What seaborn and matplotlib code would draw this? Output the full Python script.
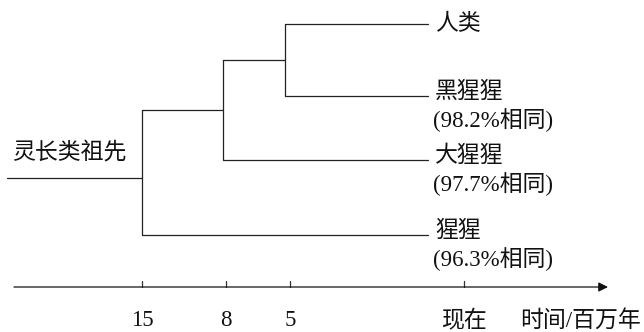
import numpy as np
import matplotlib
matplotlib.use('Agg')
import matplotlib.pyplot as plt
import seaborn as sns
import pandas as pd

sns.set_theme(style='white')
plt.rcParams['font.family'] = ['Liberation Serif', 'Noto Sans CJK SC']

# data
taxa = ['人类', '黑猩猩', '大猩猩', '猩猩']
similarity = ['', '98.2%相同', '97.7%相同', '96.3%相同']
root_label = '灵长类祖先'
split_labels = ['15', '8', '5', '现在']
axis_title = '时间/百万年'

# layout (pixel space)
tip_y = [24, 96, 160, 235]
node_x = [142, 223, 285]       # 15, 8, 5 million years ago
tip_x = 428
tick_x = [142, 226, 290, 464]
root_start = 7
axis_y = 287

# build elbow segments of the tree
mid_5 = (tip_y[0] + tip_y[1]) / 2
mid_8 = (mid_5 + tip_y[2]) / 2
mid_15 = (mid_8 + tip_y[3]) / 2

segs = [
    [(root_start, mid_15 + 5), (node_x[0], mid_15 + 5)],
    [(node_x[0], mid_8), (node_x[0], tip_y[3]), (tip_x, tip_y[3])],
    [(node_x[0], mid_8), (node_x[1], mid_8)],
    [(node_x[1], mid_5), (node_x[1], tip_y[2]), (tip_x, tip_y[2])],
    [(node_x[1], mid_5), (node_x[2], mid_5)],
    [(node_x[2], tip_y[0]), (node_x[2], tip_y[1]), (tip_x, tip_y[1])],
    [(node_x[2], tip_y[0]), (tip_x, tip_y[0])],
]
rows = []
for i, s in enumerate(segs):
    for j, (x, y) in enumerate(s):
        rows.append({'seg': i, 'order': j, 'x': x, 'y': y})
df = pd.DataFrame(rows)

fig = plt.figure(figsize=(6.44, 3.32), dpi=100)
ax = fig.add_axes([0, 0, 1, 1])
sns.lineplot(data=df, x='x', y='y', units='seg', estimator=None, sort=False,
             color='#222222', linewidth=0.9, ax=ax, legend=False)
ax.set_xlim(0, 644)
ax.set_ylim(332, 0)
ax.axis('off')

fs = 16.5
# tip labels
for name, sim, y in zip(taxa, similarity, tip_y):
    if sim:
        ax.text(435, y - 4, name, fontsize=fs, va='center', ha='left', color='#111111')
        ax.text(433, y + 24, '(' + sim + ')', fontsize=fs, va='center', ha='left', color='#111111')
    else:
        ax.text(435, y, name, fontsize=fs, va='center', ha='left', color='#111111')

ax.text(12, 153, root_label, fontsize=fs, va='center', ha='left', color='#111111')

# time axis
ax.annotate('', xy=(608, axis_y), xytext=(14, axis_y),
            arrowprops=dict(arrowstyle='-|>', color='#111111', lw=0.9,
                            mutation_scale=14, shrinkA=0, shrinkB=0))
for x, lab in zip(tick_x, split_labels):
    ax.plot([x, x], [axis_y, axis_y - 6], color='#333333', lw=0.9)
    ax.text(x, 321, lab, fontsize=fs, va='center', ha='center', color='#111111')
ax.text(581, 321, axis_title, fontsize=fs, va='center', ha='center', color='#111111')

fig.savefig('out.png', dpi=100, facecolor='white')
